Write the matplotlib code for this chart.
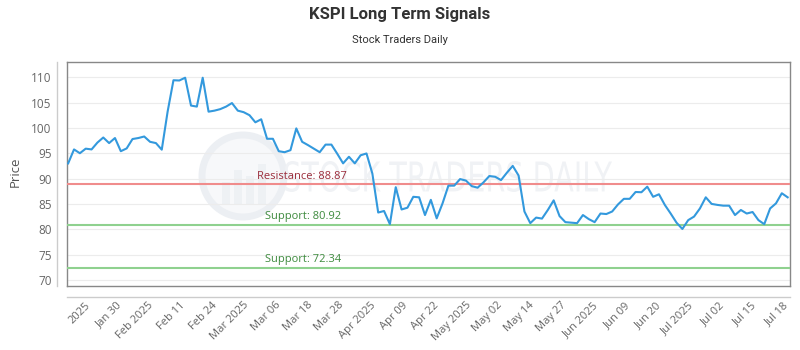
#!/usr/bin/env python3
"""
KSPI long term signals: daily price with resistance / support levels.
"""

import numpy as np
import matplotlib
matplotlib.use("Agg")
import matplotlib.pyplot as plt
from matplotlib.lines import Line2D
from matplotlib.patches import Circle, Rectangle, PathPatch
from matplotlib.textpath import TextPath
from matplotlib.font_manager import FontProperties
from matplotlib.transforms import Affine2D, IdentityTransform

# daily prices
prices = [
    93.0, 95.75, 95.0, 95.9, 95.75, 97.1, 98.1, 97.0, 98.0, 95.4,
    95.95, 97.8, 98.0, 98.3, 97.25, 97.0, 95.7, 103.2, 109.4, 109.35,
    109.9, 104.4, 104.2, 109.9, 103.2, 103.4, 103.7, 104.2, 104.9, 103.4,
    103.1, 102.5, 101.1, 101.7, 97.85, 97.85, 95.4, 95.2, 95.6, 99.9,
    97.25, 96.6, 95.9, 95.2, 96.7, 96.7, 94.9, 93.0, 94.3, 93.0,
    94.6, 94.95, 91.0, 83.3, 83.6, 81.0, 88.3, 83.9, 84.25, 86.4,
    86.3, 82.8, 85.8, 82.15, 85.1, 88.6, 88.6, 89.9, 89.6, 88.5,
    88.2, 89.25, 90.5, 90.35, 89.7, 91.15, 92.5, 90.6, 83.5, 81.2,
    82.3, 82.1, 83.8, 85.7, 82.6, 81.4, 81.3, 81.2, 82.8, 82.0,
    81.4, 83.1, 83.0, 83.5, 84.9, 86.0, 86.0, 87.35, 87.3, 88.4,
    86.4, 86.9, 84.8, 83.1, 81.3, 80.05, 81.8, 82.5, 84.1, 86.3,
    85.0, 84.8, 84.65, 84.65, 82.8, 83.8, 83.1, 83.4, 81.8, 81.0,
    84.1, 85.1, 87.1, 86.3,
]

tick_labels = [
    "2025", "Jan 30", "Feb 2025", "Feb 11", "Feb 24", "Mar 2025", "Mar 06",
    "Mar 18", "Mar 28", "Apr 2025", "Apr 09", "Apr 22", "May 2025",
    "May 02", "May 14", "May 27", "Jun 2025", "Jun 09", "Jun 20",
    "Jul 2025", "Jul 02", "Jul 15", "Jul 18",
]

resistance = 88.87
supports = [80.92, 72.34]

plt.rcParams['font.family'] = ['Open Sans', 'DejaVu Sans']

fig = plt.figure(figsize=(8, 3.5), dpi=100)
ax = fig.add_axes([67 / 800, 64 / 350, 723 / 800, 224 / 350])

# faint watermark (drawn in pixel coordinates, behind the axes)
ring = Circle((243, 174), 41, transform=IdentityTransform(),
              facecolor='#f7f8fa', edgecolor='#eceff3', lw=5, zorder=-2)
fig.patches.append(ring)
for bx, bh in [(222, 22), (234, 34), (246, 28), (258, 40)]:
    fig.patches.append(Rectangle((bx, 146), 8, bh, transform=IdentityTransform(),
                                 facecolor='#eef1f4', edgecolor='none', zorder=-2))
tp = TextPath((0, 0), "STOCK TRADERS DAILY", size=1,
              prop=FontProperties(family='DejaVu Sans'))
ext = tp.get_extents()
sx = 327 / ext.width
sy = 31 / ext.height
wm = PathPatch(tp, transform=Affine2D().translate(-ext.x0, -ext.y0)
               .scale(sx, sy).translate(285, 158),
               facecolor='#f0f2f5', edgecolor='none', zorder=-2)
fig.patches.append(wm)

ax.set_facecolor('none')
x = np.arange(len(prices))
ax.plot(x, prices, color='#3399dd', lw=1.5, zorder=4)

ax.axhline(resistance, color='#f08c8c', lw=1.5, zorder=3)
for s in supports:
    ax.axhline(s, color='#8fd18f', lw=1.5, zorder=3)

ax.annotate(f"Resistance: {resistance}", xy=(0.263, resistance),
            xycoords=('axes fraction', 'data'), xytext=(0, 2),
            textcoords='offset points', va='bottom', ha='left',
            fontsize=8, color='#9b2c3a', zorder=5)
for s in supports:
    ax.annotate(f"Support: {s}", xy=(0.274, s),
                xycoords=('axes fraction', 'data'), xytext=(0, 2),
                textcoords='offset points', va='bottom', ha='left',
                fontsize=8, color='#3d8a3d', zorder=5)

ax.set_xlim(-0.2, len(prices) - 0.6)
ax.set_ylim(68.8, 113)
ax.set_yticks(np.arange(70, 111, 5))
ax.yaxis.grid(True, color='#ececec', lw=0.8)
ax.set_axisbelow(True)

ax.set_xticks(np.linspace(2.8, 122.2, len(tick_labels)))
ax.set_xticklabels(tick_labels, rotation=45, ha='right', va='top',
                   rotation_mode='anchor')
ax.tick_params(axis='x', length=0, pad=10, labelsize=8, labelcolor='#666666')
ax.tick_params(axis='y', length=0, pad=11, labelsize=8.5, labelcolor='#666666')

for sp in ax.spines.values():
    sp.set_color('#888888')
    sp.set_linewidth(1)

# separate light axis lines outside the plot frame
fig.add_artist(Line2D([57 / 800, 57 / 800], [64 / 350, 288 / 350],
                      color='#cccccc', lw=1))
fig.add_artist(Line2D([67 / 800, 790 / 800], [53 / 350, 53 / 350],
                      color='#cccccc', lw=1))

fig.text(15 / 800, 1 - 172 / 350, "Price", rotation=90, ha='center',
         va='center', fontsize=9.5, color='#555555')
fig.text(0.5, 1 - 15 / 350, "KSPI Long Term Signals", ha='center',
         va='center', fontsize=12, weight='bold', color='#333333',
         family='Roboto')
fig.text(0.5, 1 - 40 / 350, "Stock Traders Daily", ha='center',
         va='center', fontsize=8, color='#333333', family='Roboto')

fig.savefig("out.png", dpi=100)
